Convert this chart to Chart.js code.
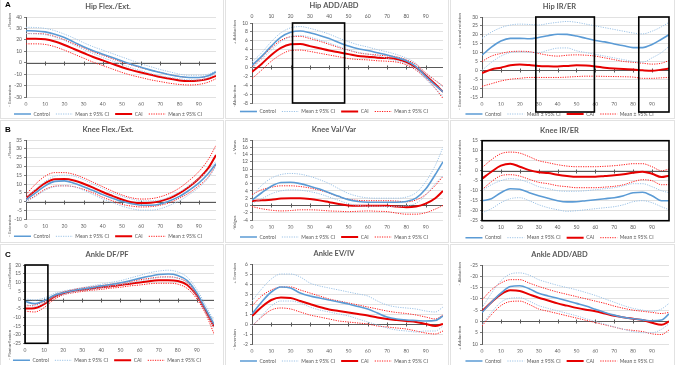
<!DOCTYPE html>
<html>
<head>
<meta charset="utf-8">
<script src="https://cdn.jsdelivr.net/npm/chart.js@4.4.1/dist/chart.umd.min.js"></script>
<style>
  body { margin: 0; width: 675px; height: 365px; position: relative; overflow: hidden; background: #fff; }
  canvas { position: absolute; }
  .frame { position: absolute; border: 1px solid #e2e2e2; box-sizing: border-box; }
  .tag { position: absolute; font: bold 8px "Liberation Sans", Arial, sans-serif; color: #000; }
</style>
</head>
<body>
<script>
// gait cycle (%) where values were read, and axis tick labels
const xPct = [0, 5, 10, 15, 20, 25, 30, 35, 40, 45, 50, 55, 60, 65, 70, 75, 80, 85, 90, 95, 99];
const xTicks = [0, 10, 20, 30, 40, 50, 60, 70, 80, 90];

// ── Hip Flex./Ext. ──
const hipFE_y = [-30, 40, 10];
const hipFE_ctrl   = [28, 27.8, 27, 25, 22, 18, 14, 10.5, 7.5, 4.5, 1.5, -1.5, -4, -6.5, -8.5, -10.5, -12, -13, -13, -11.5, -8];
const hipFE_ctrlHi = [31, 30.8, 30, 28, 25, 21.5, 17.5, 14, 11, 8, 5, 2, -1, -3.5, -6, -8, -10, -11, -11, -10, -7];
const hipFE_ctrlLo = [25.5, 25.3, 24.5, 22.5, 19.5, 15.5, 11.5, 8, 4.5, 1.5, -1.5, -4.5, -7, -9.5, -11.5, -13, -14, -15, -15, -13, -9];
const hipFE_cai    = [21, 21, 20.5, 18.5, 15.5, 12, 8.5, 5, 2, -1, -4, -6.5, -8.5, -10.5, -12.5, -14, -15.5, -16, -15.5, -14, -11.5];
const hipFE_caiHi  = [25.5, 25.5, 25, 23, 20, 16.5, 13, 9.5, 6.5, 3.5, 0.5, -2, -4.5, -6.5, -8.5, -10.5, -12, -13, -13, -11.5, -8.5];
const hipFE_caiLo  = [16.5, 16.5, 16, 14, 11, 7.5, 4, 0.5, -2.5, -5.5, -8.5, -11, -13, -15, -16.5, -18, -19, -19.5, -19, -17, -14];

// ── Hip ADD/ABD ──
const hipAA_y = [-8, 10, 2];
const hipAA_ctrl   = [0.5, 2.5, 4.8, 6.8, 7.9, 8.2, 7.8, 7.2, 6.5, 5.6, 4.8, 4.2, 3.8, 3.3, 2.8, 2.2, 1.5, 0.2, -2, -4, -5.5];
const hipAA_ctrlHi = [1.2, 3.3, 5.8, 7.8, 8.9, 9.2, 8.8, 8.2, 7.5, 6.6, 5.8, 5.1, 4.6, 4, 3.5, 2.9, 2.1, 0.9, -1.4, -3, -4.3];
const hipAA_ctrlLo = [-0.2, 1.8, 3.9, 5.8, 6.9, 7.2, 6.8, 6.2, 5.5, 4.7, 3.9, 3.4, 3, 2.6, 2.1, 1.5, 0.9, -0.5, -2.6, -4.8, -6.6];
const hipAA_cai    = [-1, 0.8, 2.8, 4.4, 5.2, 5.3, 4.8, 4.3, 3.8, 3.4, 3, 2.6, 2.4, 2.2, 2.1, 1.9, 1.2, 0, -1.8, -3.8, -5.5];
const hipAA_caiHi  = [0, 2.2, 4.4, 6.1, 6.9, 7, 6.5, 5.9, 5.2, 4.5, 3.9, 3.3, 3, 2.8, 2.6, 2.4, 1.7, 0.7, -1.2, -2.9, -4.2];
const hipAA_caiLo  = [-2.5, -0.6, 1.4, 2.9, 3.8, 3.9, 3.6, 3.2, 2.8, 2.4, 2, 1.8, 1.7, 1.5, 1.4, 1.2, 0.6, -0.6, -2.4, -4.7, -7];

// ── Hip IR/ER ──
const hipIE_y = [-15, 30, 5];
const hipIE_ctrl   = [8.5, 13, 16.5, 18, 18, 17.8, 18.5, 19.5, 20.3, 20.2, 19.3, 18, 16.8, 16, 14.8, 13.8, 12.8, 12.8, 14.5, 17.5, 20];
const hipIE_ctrlHi = [18, 21.5, 24, 25.5, 26, 25.8, 25.5, 26.3, 27, 27.5, 27, 26, 25, 24, 23, 22, 21, 20.5, 22, 24.5, 27];
const hipIE_ctrlLo = [0, 4.5, 8, 10, 10.5, 10.2, 10, 11.3, 12.5, 12.6, 11, 10, 9, 8, 7, 6, 5, 4.6, 7, 10, 13.5];
const hipIE_cai    = [-1.5, 0.5, 1.5, 2.8, 3.3, 3, 2.5, 2.3, 2.2, 2.5, 2.8, 2.7, 2.2, 1.5, 1, 0.7, 0.5, 0, -0.3, 0.4, 1];
const hipIE_caiHi  = [5, 8, 9.5, 10.5, 10.7, 10.5, 9.5, 8.5, 8, 8.5, 8.7, 8.5, 8, 7, 6, 5, 4.5, 4, 3.5, 4, 5.5];
const hipIE_caiLo  = [-9, -7.5, -6, -5, -4.5, -4, -4, -4, -4, -3.8, -3.5, -3.3, -3.3, -3.4, -3.5, -3.6, -3.8, -4.5, -4.5, -4.2, -4];

// ── Knee Flex./Ext. ──
const kneeFE_y = [-10, 35, 5];
const kneeFE_ctrl   = [1, 5, 9, 11.5, 11.8, 10.5, 8.5, 6.3, 4, 2, 0.2, -1.2, -2, -2, -1.3, 0.5, 3, 6.5, 10.5, 16, 21.5];
const kneeFE_ctrlHi = [2, 7, 11.5, 14.5, 15, 14.5, 12.5, 10, 7.5, 5, 3, 1.5, 0.5, 0.5, 1, 2.8, 5.5, 9, 13, 18, 23];
const kneeFE_ctrlLo = [0, 3, 6.5, 8.5, 9, 8.5, 6.5, 4, 1.5, -0.5, -2.5, -4, -4.8, -4.8, -4, -2, 0.5, 4, 8, 13.5, 20];
const kneeFE_cai    = [2, 6.5, 10.5, 12.7, 12.8, 12, 10.2, 8, 5.5, 3.3, 1.2, -0.3, -0.8, -0.6, 0.3, 2, 4.8, 8.5, 13, 19, 26.5];
const kneeFE_caiHi  = [4, 10, 14.5, 16.5, 16.5, 15.5, 13.5, 11, 8.5, 6, 3.8, 2.2, 1.5, 1.7, 2.8, 4.8, 7.8, 12, 17, 24, 32];
const kneeFE_caiLo  = [0, 3.5, 7, 8.8, 9, 8.5, 7, 5, 2.5, 0.5, -1.5, -2.5, -3, -2.8, -2, -0.5, 2, 5, 9, 14, 21];

// ── Knee Val/Var ──
const kneeVV_y = [-4, 18, 2];
const kneeVV_ctrl   = [1.5, 3.5, 5.3, 6.3, 6.4, 6, 5.3, 4.5, 3.5, 2.5, 1.6, 1.1, 0.9, 0.9, 0.9, 0.9, 1.1, 2, 4.5, 8.5, 12];
const kneeVV_ctrlHi = [2.5, 5.5, 7.5, 8.5, 8.8, 8.6, 8, 7.1, 6, 4.6, 3.3, 2.5, 2.1, 2, 2, 2, 2.3, 3.5, 6.5, 11, 16];
const kneeVV_ctrlLo = [0.6, 1.8, 3.2, 4, 4.3, 4.2, 3.8, 3.2, 2.3, 1.4, 0.5, 0, -0.2, -0.2, -0.3, -0.3, -0.1, 0.6, 2.8, 6, 8.2];
const kneeVV_cai    = [1.2, 1.4, 1.6, 1.9, 2, 2, 1.8, 1.4, 0.9, 0.4, 0, -0.1, -0.1, -0.1, -0.1, -0.3, -0.5, -0.3, 0.5, 2, 4];
const kneeVV_caiHi  = [3, 4.3, 5, 5.4, 5.4, 5.2, 4.8, 4.2, 3.4, 2.4, 1.7, 1.4, 1.3, 1.3, 1.3, 1.2, 1, 1.5, 3, 5.5, 8];
const kneeVV_caiLo  = [-0.3, -0.9, -1.3, -1.5, -1.4, -1.2, -1.2, -1.3, -1.5, -1.6, -1.7, -1.6, -1.5, -1.6, -1.7, -2.1, -2.4, -2.4, -2, -1, 0];

// ── Knee IR/ER ──
const kneeIE_y = [-25, 15, 5];
const kneeIE_ctrl   = [-15, -14, -11, -9, -9.3, -11, -12.5, -13.8, -15, -15.6, -15.5, -15, -14.5, -14, -13.5, -12.5, -11, -10.8, -12.5, -15, -15];
const kneeIE_ctrlHi = [-10, -7, -5, -4, -4.5, -6, -8, -9, -10, -10.3, -10.3, -10, -9.5, -9, -8.5, -7.5, -6.5, -6.5, -8, -10, -11];
const kneeIE_ctrlLo = [-21, -19, -16, -14, -13.5, -15, -17, -18.5, -19.5, -20.3, -20, -19.5, -19, -18.5, -18, -17, -15.5, -15, -16, -18, -19.5];
const kneeIE_cai    = [-4, -0.5, 2.5, 3.5, 2, 0.3, -0.8, -1.2, -2, -2.6, -3, -3, -3, -2.6, -2.3, -1.8, -1, -0.5, -1.5, -3.2, -2.5];
const kneeIE_caiHi  = [1.5, 5.5, 8.5, 9.3, 8.8, 7, 5, 4, 3, 2.3, 2, 2, 2, 2.2, 2.5, 3, 3.5, 3.5, 2, 0, 0.8];
const kneeIE_caiLo  = [-9.5, -5.5, -2.5, -2, -2.7, -4.3, -5.8, -6.5, -7.5, -8, -8.5, -8.5, -8.5, -8.2, -7.8, -7, -5.5, -4.5, -5, -7, -7];

// ── Ankle DF/PF ──
const ankDP_y = [-25, 20, 5];
const ankDP_ctrl   = [-1, -2.2, -0.5, 2.5, 4, 5.2, 6.2, 7, 8, 8.8, 9.8, 11, 12.3, 13.5, 14.5, 14.8, 14, 11, 4, -6, -14];
const ankDP_ctrlHi = [0.5, 0, 1, 3.5, 5, 6, 7, 8, 9, 10, 11, 12.5, 14, 15.5, 16.5, 17, 16, 13, 6, -4, -12];
const ankDP_ctrlLo = [-2.5, -3.8, -2, 1.5, 3, 4.3, 5.5, 6, 7, 7.8, 8.7, 9.7, 10.8, 11.8, 12.8, 13, 12.3, 9.5, 2, -8, -16];
const ankDP_cai    = [-5, -4.8, -2.5, 1.5, 3.8, 5, 5.8, 6.5, 7.2, 7.8, 8.5, 9.2, 10, 10.7, 11.2, 11.3, 10.8, 8.5, 2.5, -7, -15.5];
const ankDP_caiHi  = [-3.5, -3, -1, 2.5, 4.5, 5.8, 6.8, 7.5, 8.2, 9, 9.7, 10.5, 11.5, 12.3, 13, 13.2, 12.5, 10, 3.5, -6, -14];
const ankDP_caiLo  = [-6.5, -7, -4.5, 0, 2.8, 4, 4.8, 5.5, 6, 6.7, 7.2, 8, 8.5, 9.2, 9.5, 9.5, 9, 6.5, 0.5, -9, -19.5];

// ── Ankle EV/IV ──
const ankEI_y = [-2, 6, 1];
const ankEI_ctrl   = [1, 2.2, 3.2, 3.7, 3.6, 3.1, 2.8, 2.6, 2.4, 2.2, 2, 1.75, 1.5, 1.1, 0.7, 0.5, 0.4, 0.35, 0.3, 0.35, 0.8];
const ankEI_ctrlHi = [2.3, 3.5, 4.5, 5, 5, 4.7, 4.1, 3.8, 3.6, 3.4, 3.2, 3, 2.8, 2.3, 1.9, 1.7, 1.6, 1.5, 1.3, 1.2, 1.7];
const ankEI_ctrlLo = [-0.2, 0.8, 1.8, 2.3, 2.3, 2.1, 1.7, 1.4, 1.2, 1, 0.8, 0.5, 0.2, -0.1, -0.4, -0.6, -0.7, -0.8, -0.7, -0.7, -0.2];
const ankEI_cai    = [0.8, 1.7, 2.4, 2.65, 2.6, 2.3, 2, 1.7, 1.45, 1.3, 1.15, 1, 0.85, 0.65, 0.5, 0.4, 0.3, 0.2, 0, -0.2, 0];
const ankEI_caiHi  = [1.8, 2.8, 3.4, 3.7, 3.7, 3.4, 3.1, 2.8, 2.5, 2.3, 2.1, 1.9, 1.7, 1.5, 1.3, 1.15, 1.05, 0.9, 0.7, 0.5, 0.9];
const ankEI_caiLo  = [-0.2, 0.7, 1.4, 1.6, 1.5, 1.2, 0.9, 0.7, 0.5, 0.3, 0.2, 0.1, 0, -0.2, -0.3, -0.4, -0.5, -0.7, -0.9, -1, -0.7];

// ── Ankle ADD/ABD (axis reversed) ──
const ankAA_y = [-25, 10, 5];
const ankAA_ctrl   = [-4, -8.5, -12.5, -15.5, -15.8, -14.5, -12.5, -11.3, -10.3, -9.2, -8, -6.8, -5.4, -4, -2.8, -1.8, -1.2, -0.7, -0.3, -0.6, -3.3];
const ankAA_ctrlHi = [-6, -12.5, -18, -21, -21.5, -20.5, -18.5, -17.2, -16, -15, -14, -12.8, -11.5, -10, -8.5, -7, -5.8, -5, -4.5, -5.5, -8];
const ankAA_ctrlLo = [1.5, -4, -8.5, -10.3, -10.5, -9, -7, -5.8, -4.7, -3.6, -2.5, -1.2, 0, 1.2, 2.4, 3.5, 4.5, 5, 5, 3.5, 1];
const ankAA_cai    = [-4.5, -8.5, -12, -13.8, -13.5, -12, -10.5, -9.3, -8, -7, -6, -5.2, -4.5, -3.5, -2.5, -1.8, -1.2, -0.6, 0.6, 1.5, 0];
const ankAA_caiHi  = [-9.5, -14, -17, -18.5, -18.5, -17, -15.5, -14.2, -13, -12, -11, -10, -9, -8, -6.8, -5.8, -5, -4.5, -4, -3.5, -4];
const ankAA_caiLo  = [2, -3, -7, -8.8, -9, -7.5, -5.5, -4.5, -3.5, -2.5, -1.5, -0.5, 0.5, 1.5, 2.5, 3.5, 4, 4.5, 5.5, 5.8, 3.8];

const BLUE = '#5b9bd5', BLUE_CI = '#9dc3e6', RED = '#e60000', RED_CI = '#ff1a1a';
const GREY = '#595959';
Chart.defaults.font.family = 'Lato';

// panel geometry (canvas position, plot area inside the canvas)
const panels = [
  { tag: 'A', left: 0,   top: 0,   w: 224, cTop: 17, cBot: 97,   cLeft: 26, cRight: 216, title: 'Hip Flex./Ext.', y: hipFE_y, yTitle: ['+Flexion', '- Extension'], yAt: [13, 107],
    s: [hipFE_ctrl, hipFE_ctrlHi, hipFE_ctrlLo, hipFE_cai, hipFE_caiHi, hipFE_caiLo] },
  { left: 225, top: 0,   w: 224, cTop: 23, cBot: 103,  cLeft: 27, cRight: 218, title: 'Hip ADD/ABD', y: hipAA_y, yTitle: ['+ Adduction', '-Abduction'], yAt: [20, 107], xTop: true,
    boxes: [[21, 48, 0]], s: [hipAA_ctrl, hipAA_ctrlHi, hipAA_ctrlLo, hipAA_cai, hipAA_caiHi, hipAA_caiLo] },
  { left: 450, top: 0,   w: 225, cTop: 17, cBot: 97,   cLeft: 32, cRight: 219, title: 'Hip IR/ER', y: hipIE_y, yTitle: ['+ Internal rotation', '- External rotation'], yAt: [13, 110],
    boxes: [[28.5, 59.5, 15], [83, null, 15]], s: [hipIE_ctrl, hipIE_ctrlHi, hipIE_ctrlLo, hipIE_cai, hipIE_caiHi, hipIE_caiLo] },
  { tag: 'B', left: 0,   top: 123, w: 224, cTop: 17, cBot: 96.3, cLeft: 26, cRight: 216, title: 'Knee Flex./Ext.', y: kneeFE_y, yTitle: ['+Flexion', '- Extension'], yAt: [19, 114],
    s: [kneeFE_ctrl, kneeFE_ctrlHi, kneeFE_ctrlLo, kneeFE_cai, kneeFE_caiHi, kneeFE_caiLo] },
  { left: 225, top: 123, w: 224, cTop: 17, cBot: 97,   cLeft: 27, cRight: 218, title: 'Knee Val/Var', y: kneeVV_y, yTitle: ['+ Varus', '-Valgus'], yAt: [17, 107],
    s: [kneeVV_ctrl, kneeVV_ctrlHi, kneeVV_ctrlLo, kneeVV_cai, kneeVV_caiHi, kneeVV_caiLo] },
  { left: 450, top: 123, w: 225, cTop: 17.7, cBot: 97.7, cLeft: 32, cRight: 219, title: 'Knee IR/ER', y: kneeIE_y, yTitle: ['+ Internal rotation', '- External rotation'], yAt: [17, 97],
    boxes: [[0, null, 0]], s: [kneeIE_ctrl, kneeIE_ctrlHi, kneeIE_ctrlLo, kneeIE_cai, kneeIE_caiHi, kneeIE_caiLo] },
  { tag: 'C', left: 0,   top: 248, w: 224, cTop: 17, cBot: 95.3, cLeft: 25, cRight: 214, title: 'Ankle DF/PF', y: ankDP_y, yTitle: ['+Dorsiflexion', '- Plantarflexion'], yAt: [15, 112],
    boxes: [[0, 12, 0]], s: [ankDP_ctrl, ankDP_ctrlHi, ankDP_ctrlLo, ankDP_cai, ankDP_caiHi, ankDP_caiLo] },
  { left: 225, top: 248, w: 224, cTop: 16, cBot: 96,   cLeft: 27, cRight: 218, title: 'Ankle EV/IV', y: ankEI_y, yTitle: ['+ Eversion', '- Inversion'], yAt: [15, 102],
    s: [ankEI_ctrl, ankEI_ctrlHi, ankEI_ctrlLo, ankEI_cai, ankEI_caiHi, ankEI_caiLo] },
  { left: 450, top: 248, w: 225, cTop: 17, cBot: 96,   cLeft: 32, cRight: 219, title: 'Ankle ADD/ABD', y: ankAA_y, yTitle: ['- Abduction', '+ Adduction'], yAt: [14, 102], reverse: true,
    s: [ankAA_ctrl, ankAA_ctrlHi, ankAA_ctrlLo, ankAA_cai, ankAA_caiHi, ankAA_caiLo] }
];

// frames round each panel
[[0, -2, 224, 121], [225, -2, 224, 121], [450, -2, 225, 121],
 [0, 120, 224, 123], [225, 120, 224, 123], [450, 120, 225, 123],
 [0, 244, 224, 123], [225, 244, 224, 123], [450, 244, 225, 123]].forEach(([l, t, w, h]) => {
  const d = document.createElement('div');
  d.className = 'frame';
  Object.assign(d.style, { left: l + 'px', top: t + 'px', width: w + 'px', height: h + 'px' });
  document.body.appendChild(d);
});

// zero line with tick crosses (drawn under the series)
const zeroAxis = {
  id: 'zeroAxis',
  beforeDatasetsDraw(chart) {
    const { ctx, chartArea: a, scales: { x, y } } = chart;
    const y0 = Math.round(y.getPixelForValue(0)) + 0.5;
    ctx.save();
    ctx.strokeStyle = GREY;
    ctx.lineWidth = 1;
    ctx.beginPath();
    ctx.moveTo(a.left, y0); ctx.lineTo(a.right, y0);
    x.ticks.forEach(t => {
      const px = Math.round(x.getPixelForValue(t.value)) + 0.5;
      ctx.moveTo(px, y0 - 2); ctx.lineTo(px, y0 + 2);
    });
    ctx.stroke();
    ctx.restore();
  }
};

// black highlight boxes
const boxes = {
  id: 'boxes',
  afterDatasetsDraw(chart, args, opts) {
    const { ctx, chartArea: a, scales: { x } } = chart;
    (opts.ranges || []).forEach(([from, to, drop]) => {
      const l = x.getPixelForValue(from);
      const r = to == null ? a.right : x.getPixelForValue(to);
      ctx.save();
      ctx.strokeStyle = '#000';
      ctx.lineWidth = 1.6;
      ctx.strokeRect(l, a.top, r - l, a.bottom + drop - a.top);
      ctx.restore();
    });
  }
};

// rotated two-part y titles
const sideTitles = {
  id: 'sideTitles',
  afterDraw(chart, args, opts) {
    const { ctx } = chart;
    ctx.save();
    ctx.font = '4.5px Lato';
    ctx.fillStyle = GREY;
    ctx.textBaseline = 'middle';
    ctx.translate(9.5, 0);
    ctx.rotate(-Math.PI / 2);
    ctx.textAlign = 'right';
    ctx.fillText(opts.text[0], -opts.at[0], 0);
    ctx.textAlign = 'left';
    ctx.fillText(opts.text[1], -opts.at[1], 0);
    ctx.restore();
  }
};

function line(label, vals, color, width, dash) {
  return { label, data: vals, borderColor: color, backgroundColor: color, borderWidth: width, borderDash: dash,
    pointRadius: 0, fill: false, cubicInterpolationMode: 'monotone' };
}

panels.forEach(p => {
  const legendH = 21;
  const xAxisH = p.xTop ? 0 : 8.5;
  const need = p.cBot + xAxisH + legendH;
  const H = Math.ceil(need);
  const cv = document.createElement('canvas');
  cv.width = p.w; cv.height = H;
  cv.style.left = p.left + 'px'; cv.style.top = p.top + 'px';
  document.body.appendChild(cv);

  if (p.tag) {
    const t = document.createElement('div');
    t.className = 'tag';
    t.textContent = p.tag;
    t.style.left = (p.left + 5) + 'px';
    t.style.top = (p.top + (p.top ? 2 : 0)) + 'px';
    document.body.appendChild(t);
  }

  const titlePadTop = p.xTop ? 1.5 : p.cTop - 15;
  const titlePadBot = p.xTop ? 0 : 6;
  const tickFont = { family: 'Lato', size: 5 };

  new Chart(cv, {
    type: 'line',
    data: {
      labels: xPct,
      datasets: [
        line('Control', p.s[0], BLUE, 1.6, []),
        line('Mean ± 95% CI', p.s[1], BLUE_CI, 1, [1.2, 1.2]),
        line('', p.s[2], BLUE_CI, 1, [1.2, 1.2]),
        line('CAI', p.s[3], RED, 2, []),
        line('Mean ± 95% CI', p.s[4], RED_CI, 1, [1.2, 1.2]),
        line('', p.s[5], RED_CI, 1, [1.2, 1.2])
      ]
    },
    plugins: [zeroAxis, boxes, sideTitles],
    options: {
      responsive: false, animation: false, events: [],
      layout: { padding: { top: 0, left: 0, right: p.w - p.cRight, bottom: H - need } },
      scales: {
        x: {
          type: 'linear', min: 0, max: 99, position: p.xTop ? 'top' : 'bottom',
          afterBuildTicks: s => { s.ticks = xTicks.map(v => ({ value: v })); },
          afterFit: s => { s.height = p.xTop ? p.cTop - (titlePadTop + 9) : xAxisH; },
          grid: { display: false, drawTicks: false },
          border: { display: false },
          ticks: { font: tickFont, color: GREY, padding: 4, maxRotation: 0, autoSkip: false }
        },
        y: {
          min: p.y[0], max: p.y[1], reverse: !!p.reverse,
          afterFit: s => { s.width = p.cLeft; },
          ticks: { stepSize: p.y[2], font: tickFont, color: GREY, padding: 2, autoSkip: false },
          grid: { color: '#d9d9d9', lineWidth: 0.8, tickColor: GREY, tickLength: 2 },
          border: { color: GREY, width: 1 }
        }
      },
      plugins: {
        title: { display: true, text: p.title, color: GREY, font: { family: 'Lato', size: 7.5, weight: 'bold', lineHeight: 1.2 },
          padding: { top: titlePadTop, bottom: titlePadBot } },
        legend: {
          position: 'bottom',
          labels: {
            usePointStyle: true, pointStyleWidth: 17, boxHeight: 5, padding: 6,
            font: { family: 'Lato', size: 5 }, color: GREY,
            generateLabels: chart => [0, 1, 3, 4].map(i => {
              const d = chart.data.datasets[i];
              return { text: d.label, strokeStyle: d.borderColor, fillStyle: d.borderColor, lineWidth: d.borderWidth,
                lineDash: d.borderDash, pointStyle: 'line', datasetIndex: i, fontColor: GREY };
            })
          }
        },
        tooltip: { enabled: false },
        boxes: { ranges: p.boxes || [] },
        sideTitles: { text: p.yTitle, at: p.yAt }
      }
    }
  });
});
</script>
</body>
</html>
